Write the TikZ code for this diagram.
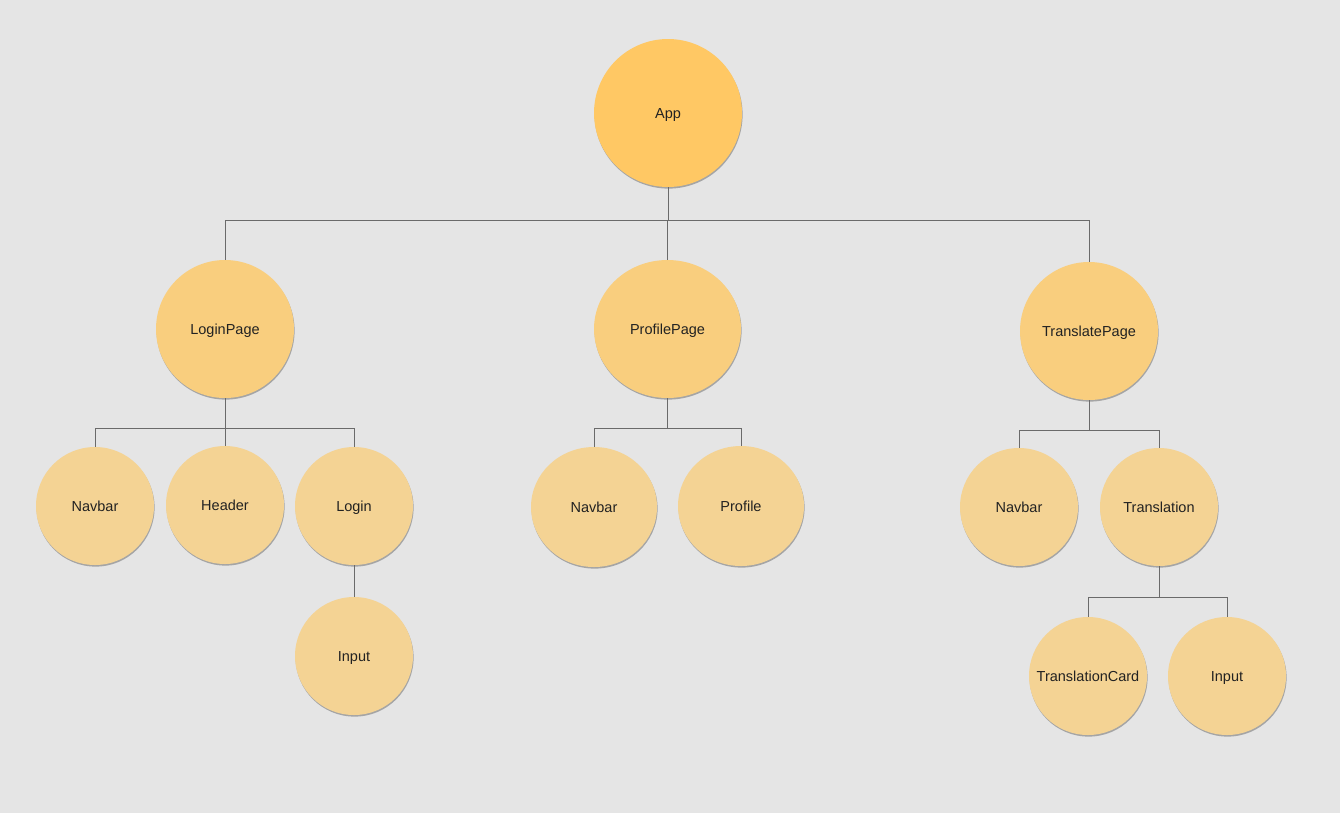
\documentclass[tikz,border=0pt]{standalone}
\usepackage{fontspec}
\setmainfont{Liberation Sans}
\usetikzlibrary{shadows,shapes.geometric}
\definecolor{bg}{HTML}{E5E5E5}
\definecolor{rootfill}{HTML}{FFC864}
\definecolor{pagefill}{HTML}{F9CE7E}
\definecolor{leaffill}{HTML}{F4D394}
\definecolor{wire}{HTML}{6A6A6A}
\definecolor{label}{HTML}{222222}
% centred label that does not widen its ellipse
\newcommand{\complabel}[1]{\makebox[0pt][c]{#1}}
\tikzset{
  comp/.style={ellipse, inner sep=0pt, text=label,
    font=\fontsize{14.5}{16}\selectfont, text height=10.4pt, text depth=0pt,
    drop shadow={shadow xshift=0.6pt, shadow yshift=-1.6pt, opacity=0.28, fill=black}},
  rootnode/.style={comp, fill=rootfill, minimum width=148pt, minimum height=148pt},
  pagenode/.style={comp, fill=pagefill, minimum width=138pt, minimum height=138pt},
  leafnode/.style={comp, fill=leaffill, minimum width=118pt, minimum height=118pt},
  wirestyle/.style={draw=wire, line width=1pt}
}
\begin{document}
\begin{tikzpicture}[x=1pt, y=-1pt]
  \useasboundingbox (0,0) rectangle (1340,812);
  \fill[bg] (-5,-5) rectangle (1345,817);

  % tree levels
  \node[rootnode] (app) at (668,113) {\complabel{App}};

  \node[pagenode] (login page) at (225,329) {\complabel{LoginPage}};
  \node[pagenode, minimum width=147pt] (profile page) at (667.5,329) {\complabel{ProfilePage}};
  \node[pagenode] (translate page) at (1089,331) {\complabel{TranslatePage}};

  \node[leafnode] (navbar1) at (95,506) {\complabel{Navbar}};
  \node[leafnode] (header) at (225,505) {\complabel{Header}};
  \node[leafnode] (login) at (354,506) {\complabel{Login}};
  \node[leafnode] (input1) at (354,656) {\complabel{Input}};

  \node[leafnode, minimum width=126pt, minimum height=120pt] (navbar2) at (594,507) {\complabel{Navbar}};
  \node[leafnode, minimum width=126pt, minimum height=120pt] (profile) at (741,506) {\complabel{Profile}};

  \node[leafnode] (navbar3) at (1019,507) {\complabel{Navbar}};
  \node[leafnode] (translation) at (1159,507) {\complabel{Translation}};
  \node[leafnode] (card) at (1088,676) {\complabel{TranslationCard}};
  \node[leafnode] (input2) at (1227,676) {\complabel{Input}};

  % bus lines
  \coordinate (busApp) at (0,220);
  \coordinate (busLogin) at (0,428);
  \coordinate (busProfile) at (0,428);
  \coordinate (busTranslate) at (0,430);
  \coordinate (busTranslation) at (0,597);

  \draw[wirestyle] (app.south) -- (app.south |- busApp);
  \draw[wirestyle] (login page.north |- busApp) -- (translate page.north |- busApp);
  \draw[wirestyle] (login page.north |- busApp) -- (login page.north);
  \draw[wirestyle] (profile page.north |- busApp) -- (profile page.north);
  \draw[wirestyle] (translate page.north |- busApp) -- (translate page.north);

  \draw[wirestyle] (login page.south) -- (login page.south |- busLogin);
  \draw[wirestyle] (navbar1.north) |- (login.north |- busLogin) -- (login.north);
  \draw[wirestyle] (header.north) -- (header.north |- busLogin);
  \draw[wirestyle] (login.south) -- (input1.north);

  \draw[wirestyle] (profile page.south) -- (profile page.south |- busProfile);
  \draw[wirestyle] (navbar2.north) |- (profile.north |- busProfile) -- (profile.north);

  \draw[wirestyle] (translate page.south) -- (translate page.south |- busTranslate);
  \draw[wirestyle] (navbar3.north) |- (translation.north |- busTranslate) -- (translation.north);

  \draw[wirestyle] (translation.south) -- (translation.south |- busTranslation);
  \draw[wirestyle] (card.north) |- (input2.north |- busTranslation) -- (input2.north);
\end{tikzpicture}
\end{document}
